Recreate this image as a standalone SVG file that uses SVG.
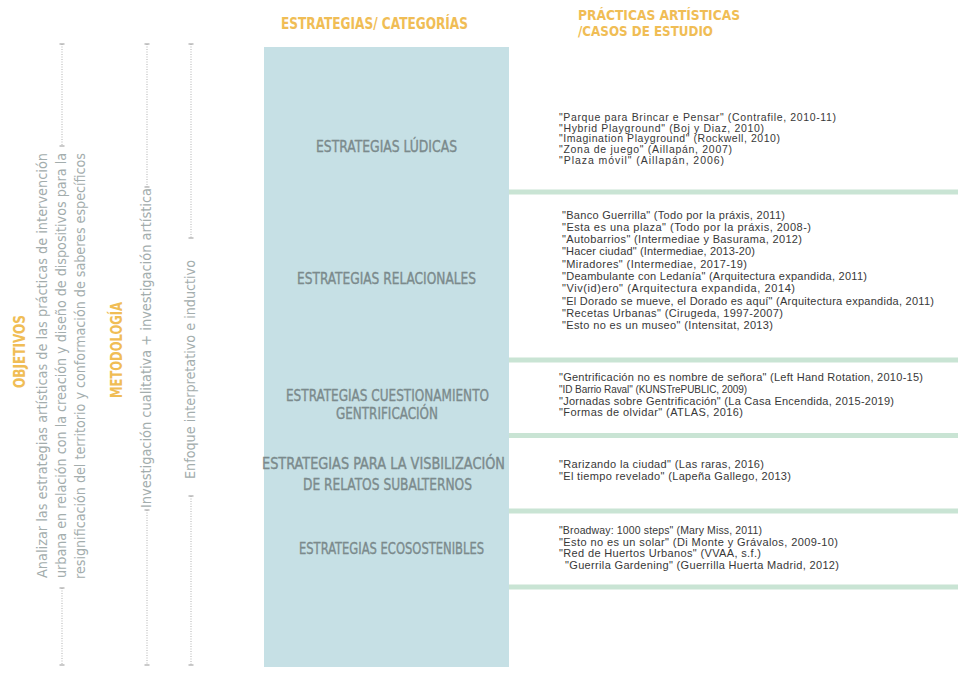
<svg xmlns="http://www.w3.org/2000/svg" width="958" height="673" viewBox="0 0 958 673">
<style>
.hdr{font-family:"Liberation Sans Narrow","DejaVu Sans Condensed","Liberation Sans",sans-serif;font-weight:bold;fill:#f0bd55;font-size:15px}
.hdr2{font-family:"Liberation Sans Narrow","DejaVu Sans Condensed","Liberation Sans",sans-serif;font-weight:bold;fill:#f0bd55;font-size:13.5px}
.cat{font-family:"Liberation Sans Narrow","DejaVu Sans Condensed","Liberation Sans",sans-serif;fill:#7b8a8c;stroke:#7b8a8c;stroke-width:0.35;font-size:15px;text-anchor:middle}
.vt{font-family:"Liberation Sans Narrow","DejaVu Sans Condensed","Liberation Sans",sans-serif;fill:#a3adad;font-size:13.5px}
.it{font-family:"Liberation Sans",sans-serif;fill:#383838;font-size:11px}
.it1{font-family:"Liberation Sans",sans-serif;fill:#383838;font-size:10.5px}
.sm{font-size:10px}
.md{font-size:10.5px}
.dot{stroke:#b8b8b8;stroke-width:1.1;stroke-dasharray:1 1.5;fill:none}
.tick{stroke:#a8a8a8;stroke-width:1.2}
.sep{stroke:#c9e4d4;stroke-width:5}
</style>
<rect width="958" height="673" fill="#ffffff"/>

<g id="left-column">
  <g id="objetivos">
    <text class="hdr" transform="translate(25,388) rotate(-90)" textLength="73" lengthAdjust="spacingAndGlyphs">OBJETIVOS</text>
    <text class="vt" transform="translate(46.5,578) rotate(-90)" textLength="425" lengthAdjust="spacingAndGlyphs">Analizar las estrategias artísticas de las prácticas de intervención</text>
    <text class="vt" transform="translate(65.5,578) rotate(-90)" textLength="425" lengthAdjust="spacingAndGlyphs">urbana en relación con la creación y diseño de dispositivos para la</text>
    <text class="vt" transform="translate(84.5,579) rotate(-90)" textLength="426" lengthAdjust="spacingAndGlyphs">resignificación del territorio y conformación de saberes específicos</text>
  </g>
  <g id="metodologia">
    <text class="hdr" transform="translate(122,398) rotate(-90)" textLength="96" lengthAdjust="spacingAndGlyphs">METODOLOGÍA</text>
    <text class="vt" transform="translate(150.5,508) rotate(-90)" textLength="320" lengthAdjust="spacingAndGlyphs">Investigación cualitativa + investigación artística</text>
    <text class="vt" transform="translate(194.5,479) rotate(-90)" textLength="219" lengthAdjust="spacingAndGlyphs">Enfoque interpretativo e inductivo</text>
  </g>
</g>

<g id="connectors">
  <line class="dot" x1="62" y1="44" x2="62" y2="146"/>
  <line class="dot" x1="62" y1="588" x2="62" y2="665"/>
  <line class="dot" x1="147" y1="44" x2="147" y2="187"/>
  <line class="dot" x1="147" y1="510" x2="147" y2="665"/>
  <line class="dot" x1="191" y1="44" x2="191" y2="238"/>
  <line class="dot" x1="191" y1="496" x2="191" y2="665"/>
  <g class="tick">
    <line x1="59.5" y1="44" x2="64.5" y2="44"/><line x1="59.5" y1="146" x2="64.5" y2="146"/>
    <line x1="59.5" y1="588" x2="64.5" y2="588"/><line x1="59.5" y1="665" x2="64.5" y2="665"/>
    <line x1="144.5" y1="44" x2="149.5" y2="44"/><line x1="144.5" y1="187" x2="149.5" y2="187"/>
    <line x1="144.5" y1="510" x2="149.5" y2="510"/><line x1="144.5" y1="665" x2="149.5" y2="665"/>
    <line x1="188.5" y1="44" x2="193.5" y2="44"/><line x1="188.5" y1="238" x2="193.5" y2="238"/>
    <line x1="188.5" y1="496" x2="193.5" y2="496"/><line x1="188.5" y1="665" x2="193.5" y2="665"/>
  </g>
  <g id="separators">
    <line class="sep" x1="509" y1="192" x2="958" y2="192"/>
    <line class="sep" x1="509" y1="360" x2="958" y2="360"/>
    <line class="sep" x1="509" y1="435.5" x2="958" y2="435.5"/>
    <line class="sep" x1="509" y1="511" x2="958" y2="511"/>
    <line class="sep" x1="509" y1="587" x2="958" y2="587"/>
  </g>
</g>

<g id="headers">
  <text class="hdr" x="281" y="29" textLength="187" lengthAdjust="spacingAndGlyphs">ESTRATEGIAS/ CATEGORÍAS</text>
  <text class="hdr2" x="578" y="20" textLength="162" lengthAdjust="spacingAndGlyphs">PRÁCTICAS ARTÍSTICAS</text>
  <text class="hdr2" x="578" y="36" textLength="135" lengthAdjust="spacingAndGlyphs">/CASOS DE ESTUDIO</text>
</g>

<g id="categories">
  <rect x="264" y="47" width="245" height="620" fill="#c6e0e5"/>
  <g id="cat-ludicas"><text class="cat" x="386.5" y="152" textLength="141" lengthAdjust="spacingAndGlyphs">ESTRATEGIAS LÚDICAS</text></g>
  <g id="cat-relacionales"><text class="cat" x="386.5" y="284" textLength="179" lengthAdjust="spacingAndGlyphs">ESTRATEGIAS RELACIONALES</text></g>
  <g id="cat-gentrificacion">
    <text class="cat" x="387.5" y="401" textLength="203" lengthAdjust="spacingAndGlyphs">ESTRATEGIAS CUESTIONAMIENTO</text>
    <text class="cat" x="387" y="419" textLength="102" lengthAdjust="spacingAndGlyphs">GENTRIFICACIÓN</text>
  </g>
  <g id="cat-subalternos">
    <text class="cat" x="383.5" y="469" textLength="243" lengthAdjust="spacingAndGlyphs">ESTRATEGIAS PARA LA VISBILIZACIÓN</text>
    <text class="cat" x="387.5" y="490" textLength="169" lengthAdjust="spacingAndGlyphs">DE RELATOS SUBALTERNOS</text>
  </g>
  <g id="cat-ecosostenibles"><text class="cat" x="391.5" y="554" textLength="185" lengthAdjust="spacingAndGlyphs">ESTRATEGIAS ECOSOSTENIBLES</text></g>
</g>

<g id="practicas-ludicas">
  <text class="it1" x="559" y="121" textLength="277">"Parque para Brincar e Pensar" (Contrafile, 2010-11)</text>
  <text class="it1" x="559" y="131.7" textLength="205">"Hybrid Playground" (Boj y Diaz, 2010)</text>
  <text class="it1" x="559" y="142.4" textLength="221">"Imagination Playground" (Rockwell, 2010)</text>
  <text class="it1" x="559" y="153.1" textLength="173">"Zona de juego" (Aillapán, 2007)</text>
  <text class="it1" x="559" y="163.8" textLength="165">"Plaza móvil" (Aillapán, 2006)</text>
</g>

<g id="practicas-relacionales">
  <text class="it" x="562" y="218.5" textLength="223">"Banco Guerrilla" (Todo por la práxis, 2011)</text>
  <text class="it" x="562" y="230.8" textLength="249">"Esta es una plaza" (Todo por la práxis, 2008-)</text>
  <text class="it" x="562" y="243.1" textLength="240">"Autobarrios" (Intermediae y Basurama, 2012)</text>
  <text class="it" x="562" y="255.4" textLength="193">"Hacer ciudad" (Intermediae, 2013-20)</text>
  <text class="it" x="562" y="267.7" textLength="185">"Miradores" (Intermediae, 2017-19)</text>
  <text class="it" x="562" y="280" textLength="305">"Deambulante con Ledanía" (Arquitectura expandida, 2011)</text>
  <text class="it" x="562" y="292.3" textLength="233">"Viv(id)ero" (Arquitectura expandida, 2014)</text>
  <text class="it" x="562" y="304.6" textLength="372">"El Dorado se mueve, el Dorado es aquí" (Arquitectura expandida, 2011)</text>
  <text class="it" x="562" y="316.9" textLength="221">"Recetas Urbanas" (Cirugeda, 1997-2007)</text>
  <text class="it" x="562" y="329.2" textLength="211">"Esto no es un museo" (Intensitat, 2013)</text>
</g>

<g id="practicas-gentrificacion">
  <text class="it" x="559" y="381" textLength="364">"Gentrificación no es nombre de señora" (Left Hand Rotation, 2010-15)</text>
  <text class="it sm" x="559" y="392.8" textLength="188">"ID Barrio Raval" (KUNSTrePUBLIC, 2009)</text>
  <text class="it" x="559" y="404.6" textLength="335">"Jornadas sobre Gentrificación" (La Casa Encendida, 2015-2019)</text>
  <text class="it" x="559" y="416.4" textLength="184">"Formas de olvidar" (ATLAS, 2016)</text>
</g>

<g id="practicas-subalternos">
  <text class="it" x="559" y="468" textLength="205">"Rarizando la ciudad" (Las raras, 2016)</text>
  <text class="it" x="559" y="479.8" textLength="232">"El tiempo revelado" (Lapeña Gallego, 2013)</text>
</g>

<g id="practicas-ecosostenibles">
  <text class="it md" x="559" y="533.7" textLength="203">"Broadway: 1000 steps" (Mary Miss, 2011)</text>
  <text class="it" x="559" y="545.5" textLength="279">"Esto no es un solar" (Di Monte y Grávalos, 2009-10)</text>
  <text class="it" x="559" y="557.3" textLength="202">"Red de Huertos Urbanos" (VVAA, s.f.)</text>
  <text class="it" x="565" y="569" textLength="274">"Guerrila Gardening" (Guerrilla Huerta Madrid, 2012)</text>
</g>
</svg>
